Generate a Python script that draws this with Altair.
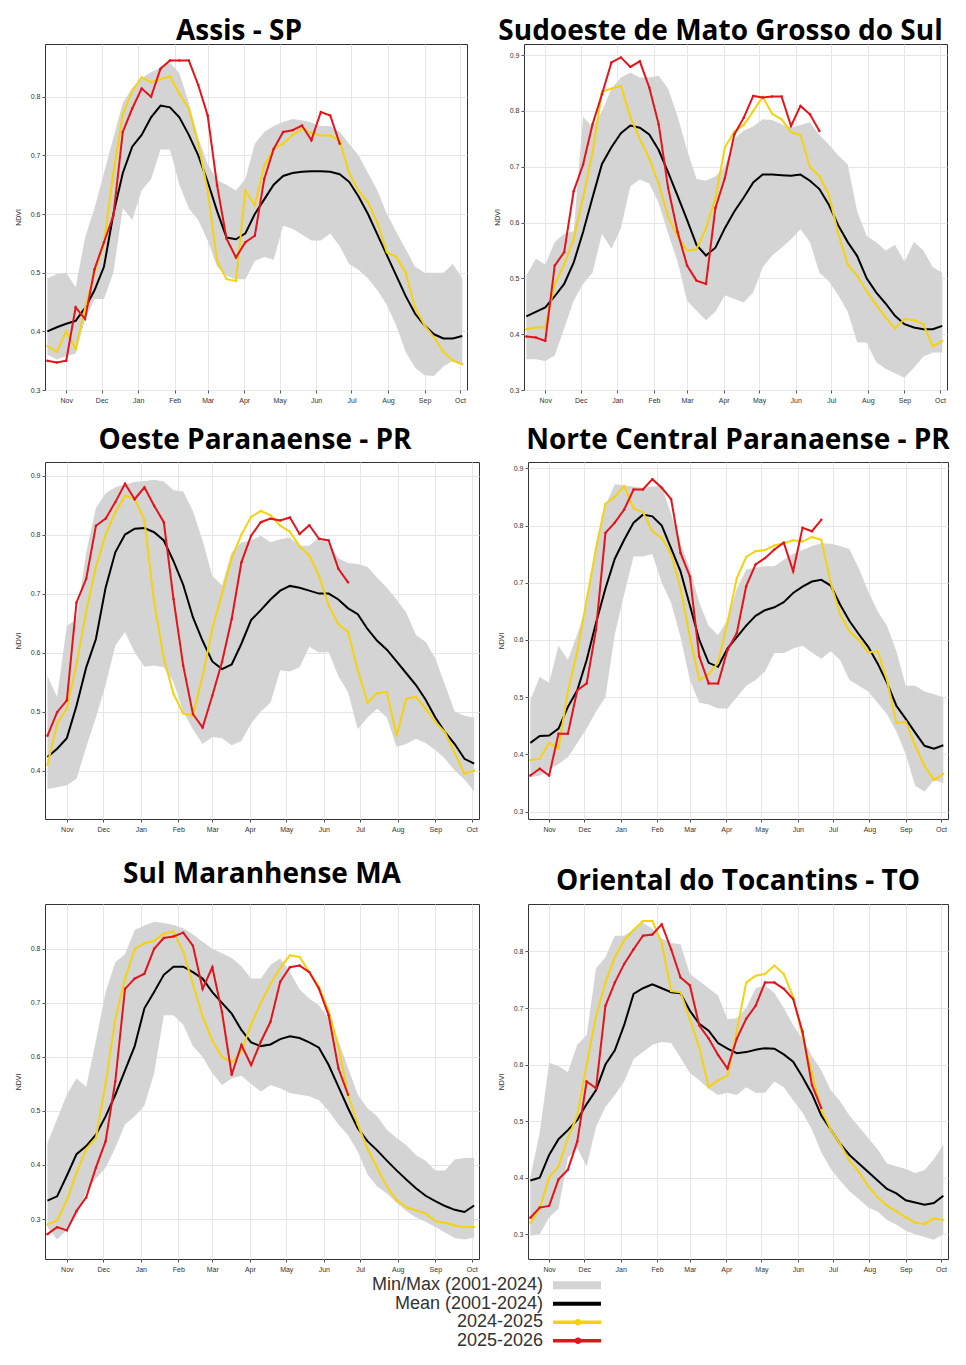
import altair as alt
import pandas as pd

# ---------------- shared axis data ----------------
DAYS = [15 + 8 * i for i in range(45)]          # 8-day composites, days since 1 Oct
MONTH_DAYS = [31, 61, 92, 123, 151, 182, 212, 243, 273, 304, 335, 365]
MONTH_LABELS = ["Nov", "Dec", "Jan", "Feb", "Mar", "Apr", "May", "Jun", "Jul", "Aug", "Sep", "Oct"]

LEGEND_LABELS = ["Min/Max (2001-2024)", "Mean (2001-2024)", "2024-2025", "2025-2026"]

# ---------------- Assis - SP ----------------
assis_mean = [.400,.407,.413,.418,.44,.47,.51,.60,.67,.715,.735,.765,.785,.782,.765,.735,.70,.655,.605,.56,.557,.567,.60,.625,.65,.665,.67,.672,.673,.673,.672,.668,.655,.63,.60,.565,.53,.495,.46,.43,.41,.395,.388,.388,.392]
assis_max = [.49,.498,.50,.475,.56,.61,.67,.73,.79,.815,.832,.842,.85,.858,.84,.79,.73,.685,.658,.65,.64,.66,.72,.74,.75,.757,.762,.76,.756,.75,.75,.74,.72,.70,.67,.64,.60,.57,.54,.51,.50,.50,.50,.515,.49]
assis_min = [.36,.352,.358,.362,.42,.455,.455,.50,.61,.59,.64,.66,.71,.71,.65,.61,.59,.555,.51,.495,.489,.489,.52,.527,.522,.58,.575,.565,.555,.555,.567,.545,.515,.505,.49,.47,.445,.41,.365,.338,.325,.324,.34,.35,.345]
assis_2425 = [.375,.365,.40,.37,.44,.50,.55,.67,.77,.81,.833,.825,.83,.835,.805,.78,.72,.64,.52,.489,.486,.64,.615,.683,.711,.72,.735,.745,.738,.734,.734,.725,.67,.64,.62,.585,.535,.527,.50,.44,.41,.39,.365,.35,.344]
assis_2526 = [.35,.347,.35,.441,.421,.506,.552,.597,.74,.78,.814,.80,.848,.862,.862,.862,.82,.768,.649,.558,.526,.552,.563,.66,.711,.74,.743,.751,.726,.774,.768,.72]

# ---------------- Sudoeste de Mato Grosso do Sul ----------------
ms_mean = [.432,.44,.448,.468,.49,.528,.583,.645,.705,.735,.76,.774,.77,.758,.73,.69,.648,.605,.56,.541,.555,.59,.62,.645,.672,.686,.686,.685,.684,.686,.675,.66,.632,.595,.565,.54,.50,.475,.455,.433,.418,.412,.409,.409,.415]
ms_max = [.505,.535,.525,.565,.58,.585,.79,.77,.80,.84,.86,.869,.86,.86,.863,.84,.79,.73,.678,.675,.683,.70,.75,.765,.772,.785,.784,.776,.77,.775,.78,.757,.74,.72,.704,.62,.576,.565,.55,.56,.53,.565,.55,.52,.51]
ms_min = [.355,.355,.352,.362,.41,.46,.49,.51,.58,.553,.59,.665,.677,.67,.635,.58,.53,.46,.442,.425,.44,.47,.463,.457,.475,.52,.541,.555,.57,.588,.565,.51,.495,.47,.44,.385,.385,.35,.338,.33,.322,.34,.36,.367,.367]
ms_2425 = [.409,.412,.412,.49,.525,.57,.645,.725,.835,.84,.845,.79,.75,.715,.67,.61,.575,.55,.552,.59,.644,.735,.763,.775,.80,.825,.795,.785,.762,.757,.70,.683,.65,.58,.525,.505,.477,.453,.43,.41,.427,.425,.418,.378,.388]
ms_2526 = [.396,.394,.388,.523,.547,.656,.704,.776,.83,.887,.896,.879,.889,.842,.776,.662,.583,.523,.496,.49,.626,.68,.758,.788,.827,.824,.826,.826,.773,.809,.794,.764]

# ---------------- Oeste Paranaense - PR ----------------
oeste_mean = [.423,.437,.455,.51,.575,.623,.71,.77,.80,.81,.811,.804,.79,.755,.715,.66,.62,.585,.572,.58,.615,.655,.672,.69,.705,.713,.71,.705,.70,.70,.69,.675,.665,.64,.62,.605,.585,.565,.545,.52,.49,.465,.445,.42,.412]
oeste_max = [.56,.525,.645,.657,.77,.845,.87,.88,.885,.889,.891,.893,.89,.875,.873,.84,.79,.73,.714,.77,.787,.79,.798,.787,.792,.795,.781,.781,.795,.785,.76,.752,.75,.745,.727,.71,.69,.668,.63,.618,.59,.545,.50,.493,.49]
oeste_min = [.369,.372,.375,.386,.44,.49,.545,.612,.635,.60,.576,.578,.575,.55,.50,.47,.445,.457,.455,.443,.45,.48,.50,.515,.57,.568,.575,.61,.60,.601,.56,.533,.47,.49,.505,.49,.44,.445,.454,.447,.435,.42,.40,.385,.365]
oeste_2425 = [.41,.48,.505,.58,.67,.745,.80,.838,.866,.86,.825,.686,.59,.53,.497,.493,.56,.64,.70,.76,.80,.83,.84,.833,.815,.805,.78,.765,.73,.68,.648,.635,.57,.515,.531,.533,.459,.522,.525,.505,.482,.465,.43,.395,.40]
oeste_2526 = [.459,.499,.519,.685,.725,.815,.827,.855,.886,.86,.88,.849,.821,.691,.578,.496,.473,.527,.584,.657,.753,.798,.821,.827,.824,.829,.801,.816,.793,.79,.742,.719]

# ---------------- Norte Central Paranaense - PR ----------------
norte_mean = [.42,.432,.433,.445,.483,.512,.565,.63,.69,.742,.775,.805,.819,.816,.80,.76,.72,.66,.60,.56,.553,.585,.605,.625,.642,.652,.657,.666,.682,.693,.702,.705,.695,.662,.633,.61,.588,.559,.525,.485,.462,.438,.415,.41,.416]
norte_max = [.495,.535,.525,.59,.565,.61,.66,.77,.835,.872,.87,.868,.866,.868,.869,.82,.77,.725,.665,.625,.608,.635,.69,.723,.726,.729,.729,.74,.75,.757,.764,.769,.768,.764,.759,.725,.685,.65,.625,.58,.52,.52,.51,.505,.50]
norte_min = [.36,.363,.372,.383,.395,.42,.445,.475,.50,.61,.68,.746,.746,.75,.70,.665,.605,.53,.49,.487,.48,.48,.50,.52,.53,.545,.577,.577,.585,.59,.578,.567,.58,.565,.53,.52,.51,.49,.47,.44,.40,.345,.335,.355,.35]
norte_2425 = [.39,.392,.42,.41,.51,.58,.67,.76,.838,.85,.869,.83,.823,.79,.778,.75,.69,.605,.53,.54,.56,.63,.708,.745,.755,.757,.765,.769,.774,.772,.78,.775,.70,.645,.615,.60,.578,.58,.53,.455,.457,.415,.38,.355,.366]
norte_2526 = [.363,.375,.363,.436,.436,.512,.524,.618,.787,.805,.828,.863,.863,.881,.866,.846,.752,.711,.571,.524,.524,.582,.612,.694,.732,.743,.758,.77,.72,.796,.79,.81]

# ---------------- Sul Maranhense MA ----------------
sulma_mean = [.334,.342,.38,.42,.435,.456,.49,.53,.575,.62,.69,.72,.752,.767,.767,.757,.745,.72,.70,.68,.65,.627,.62,.623,.633,.638,.635,.627,.617,.585,.545,.505,.468,.444,.427,.408,.39,.373,.357,.343,.333,.324,.317,.313,.325]
sulma_max = [.44,.485,.53,.56,.545,.63,.72,.775,.79,.835,.843,.85,.848,.844,.838,.827,.813,.80,.792,.783,.768,.745,.745,.77,.782,.757,.725,.708,.695,.672,.63,.58,.53,.505,.49,.465,.45,.437,.418,.408,.39,.39,.41,.413,.413]
sulma_min = [.285,.262,.279,.305,.35,.375,.395,.432,.475,.49,.51,.57,.677,.677,.66,.62,.60,.57,.548,.56,.565,.55,.536,.548,.542,.533,.53,.527,.52,.50,.475,.455,.425,.383,.36,.347,.33,.315,.303,.295,.285,.275,.265,.262,.266]
sulma_2425 = [.29,.297,.335,.385,.43,.45,.55,.67,.745,.80,.81,.815,.828,.832,.795,.735,.675,.63,.60,.59,.61,.66,.70,.735,.765,.788,.785,.757,.73,.685,.62,.53,.475,.43,.395,.36,.335,.322,.316,.31,.296,.293,.288,.285,.285]
sulma_2526 = [.272,.285,.279,.315,.34,.395,.444,.555,.726,.745,.754,.80,.82,.823,.83,.806,.726,.766,.683,.567,.622,.585,.628,.665,.739,.766,.769,.757,.726,.677,.579,.53]

# ---------------- Oriental do Tocantins - TO ----------------
to_mean = [.395,.40,.44,.468,.484,.502,.53,.555,.60,.625,.67,.725,.735,.742,.735,.728,.726,.695,.672,.66,.638,.628,.62,.622,.626,.629,.628,.618,.605,.578,.548,.51,.485,.46,.44,.425,.41,.395,.38,.372,.36,.356,.352,.355,.368]
to_max = [.40,.48,.603,.597,.587,.635,.652,.77,.79,.828,.828,.839,.851,.84,.823,.815,.813,.76,.748,.735,.722,.68,.682,.70,.735,.74,.727,.70,.67,.645,.615,.59,.555,.535,.51,.49,.47,.45,.425,.42,.415,.408,.413,.433,.458]
to_min = [.297,.30,.33,.345,.435,.452,.42,.49,.525,.546,.57,.61,.622,.635,.64,.638,.612,.585,.572,.557,.546,.55,.546,.56,.55,.55,.57,.56,.537,.515,.485,.445,.415,.395,.376,.362,.347,.34,.325,.317,.306,.30,.295,.29,.30]
to_2425 = [.32,.345,.40,.42,.47,.51,.60,.685,.745,.79,.82,.838,.854,.854,.815,.73,.728,.68,.63,.56,.572,.58,.66,.745,.757,.76,.775,.76,.72,.65,.585,.52,.485,.46,.43,.41,.385,.365,.35,.34,.33,.32,.318,.328,.325]
to_2526 = [.329,.347,.35,.397,.414,.464,.57,.558,.704,.745,.778,.804,.828,.83,.848,.804,.754,.74,.669,.646,.617,.593,.646,.681,.704,.745,.745,.734,.716,.658,.564,.523]

# ---------------- styling ----------------
C_BAND = "#d4d4d4"
C_MEAN = "#000000"
C_2425 = "#f5d20f"
C_2526 = "#e3141b"

label_expr = " : ".join(
    f"datum.value == {d} ? '{m}'" for d, m in zip(MONTH_DAYS, MONTH_LABELS)
) + " : ''"


def panel(title, mean, lo, hi, y2425, y2526, ydom, yticks, w, h,
          toff=7, tdx=0, tdy=0):
    xenc = alt.X(
        "day:Q",
        scale=alt.Scale(domain=[13, 371], nice=False, zero=False),
        axis=alt.Axis(values=MONTH_DAYS, labelExpr=label_expr, title=None,
                      grid=True, labelPadding=3),
    )

    def yenc(field):
        return alt.Y(
            field,
            scale=alt.Scale(domain=ydom, nice=False, zero=False),
            axis=alt.Axis(values=yticks, format=".1f", title="NDVI",
                          titlePadding=9, grid=True),
        )

    band_df = pd.DataFrame({"day": DAYS, "lo": lo, "hi": hi})
    mean_df = pd.DataFrame({"day": DAYS, "v": mean})
    a_df = pd.DataFrame({"day": DAYS[:len(y2425)], "v": y2425})
    b_df = pd.DataFrame({"day": DAYS[:len(y2526)], "v": y2526})

    band = alt.Chart(band_df).mark_area(color=C_BAND).encode(
        x=xenc, y=yenc("lo:Q"), y2="hi:Q")
    m = alt.Chart(mean_df).mark_line(color=C_MEAN, strokeWidth=2).encode(
        x=xenc, y=yenc("v:Q"))
    a = alt.Chart(a_df).mark_line(
        color=C_2425, strokeWidth=2,
        point=alt.OverlayMarkDef(color=C_2425, size=5, filled=True)).encode(
        x=xenc, y=yenc("v:Q"))
    b = alt.Chart(b_df).mark_line(
        color=C_2526, strokeWidth=2,
        point=alt.OverlayMarkDef(color=C_2526, size=6, filled=True)).encode(
        x=xenc, y=yenc("v:Q"))

    return alt.layer(band, m, a, b).properties(
        width=w, height=h,
        title=alt.TitleParams(title, font="Open Sans", fontSize=28, fontWeight="bold",
                              color="#000", offset=toff, dx=tdx, dy=tdy),
    )


T1 = [0.3, 0.4, 0.5, 0.6, 0.7, 0.8]
T2 = [0.3, 0.4, 0.5, 0.6, 0.7, 0.8, 0.9]
T3 = [0.4, 0.5, 0.6, 0.7, 0.8, 0.9]

p1 = panel("Assis - SP", assis_mean, assis_min, assis_max, assis_2425, assis_2526,
           [0.3, 0.89], T1, 422, 346, toff=-2, tdx=-17)
p2 = panel("Sudoeste de Mato Grosso do Sul", ms_mean, ms_min, ms_max, ms_2425, ms_2526,
           [0.3, 0.92], T2, 423, 346, toff=-2, tdx=-15)
p3 = panel("Oeste Paranaense - PR", oeste_mean, oeste_min, oeste_max, oeste_2425, oeste_2526,
           [0.318, 0.923], T3, 434, 357, tdx=-7)
p4 = panel("Norte Central Paranaense - PR", norte_mean, norte_min, norte_max, norte_2425, norte_2526,
           [0.287, 0.911], T2, 420, 357)
p5 = panel("Sul Maranhense MA", sulma_mean, sulma_min, sulma_max, sulma_2425, sulma_2526,
           [0.226, 0.883], T1, 434, 355, toff=15)
p6 = panel("Oriental do Tocantins - TO", to_mean, to_min, to_max, to_2425, to_2526,
           [0.256, 0.884], T1, 420, 355, toff=15, tdy=7)

# ---------------- legend (built from the legend arrays) ----------------
leg_df = pd.DataFrame({
    "label": LEGEND_LABELS,
    "color": [C_BAND, C_MEAN, C_2425, C_2526],
    "width": [8, 4, 3.5, 3.5],
    "dot": [0, 0, 1, 1],
})
ly = alt.Y("label:N", sort=LEGEND_LABELS, axis=None,
           scale=alt.Scale(type="point", padding=0.5))
leg_text = alt.Chart(leg_df).mark_text(
    align="right", baseline="middle", fontSize=18, color="#333",
    font="Liberation Sans").encode(x=alt.value(498), y=ly, text="label:N")
leg_rule = alt.Chart(leg_df).mark_rule().encode(
    x=alt.value(508), x2=alt.value(556), y=ly,
    color=alt.Color("color:N", scale=None),
    strokeWidth=alt.StrokeWidth("width:Q", scale=None))
leg_dot = alt.Chart(leg_df).transform_filter("datum.dot == 1").mark_circle(
    size=40, opacity=1).encode(
    x=alt.value(533), y=ly, color=alt.Color("color:N", scale=None))
legend = alt.layer(leg_text, leg_rule, leg_dot).properties(
    width=560, height=74, view=alt.ViewBackground(strokeOpacity=0))

row1 = alt.hconcat(p1, p2, spacing=24)
row2 = alt.hconcat(p3, p4, spacing=16)
row3 = alt.hconcat(p5, p6, spacing=16)

upper = alt.vconcat(row1, row2, spacing=22)
lower = alt.vconcat(row3, legend, spacing=3)

chart = alt.vconcat(upper, lower, spacing=27).properties(
    padding={"left": 5, "top": 9, "right": 5, "bottom": 0},
    background="white",
).configure_view(
    stroke="#333", strokeWidth=1
).configure_axis(
    labelFontSize=7, labelColor="#333", labelFont="Liberation Sans",
    tickColor="#555", tickSize=3, domain=False,
    gridColor="#e6e6e6", gridWidth=1,
    titleFontSize=7, titleFontWeight="normal", titleColor="#333",
    titleFont="Liberation Sans",
)

chart.save("out.html", embed_options={"renderer": "svg", "actions": False})
